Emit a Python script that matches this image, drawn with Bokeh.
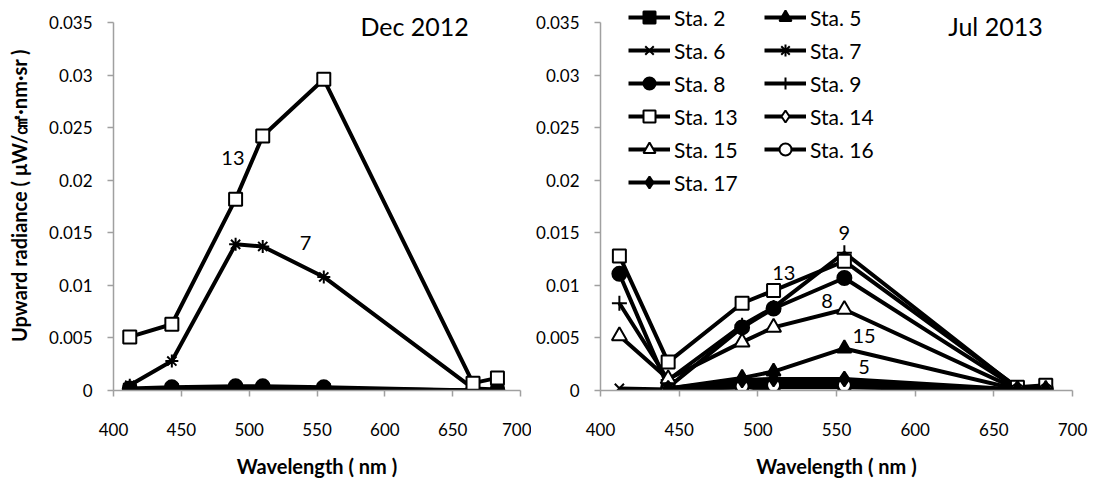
from bokeh.plotting import figure
from bokeh.models import Range1d, FixedTicker, Legend, LegendItem, ColumnDataSource, Label
from bokeh.layouts import row
from bokeh.core.properties import value
from bokeh.embed import file_html
from bokeh.resources import INLINE

NA = float("nan")

# ---------------- data ----------------
wavelengths = [412, 443, 490, 510, 555, 665, 683]

# Dec 2012
dec_sta2 = [0.0001, 0.0001, 0.0001, 0.0001, 0.0001, 0.0000, 0.0000]
dec_sta7 = [0.0005, 0.0028, 0.0139, 0.0137, 0.0108, 0.0002, 0.0001]
dec_sta8 = [0.0002, 0.0003, 0.0004, 0.0004, 0.0003, 0.0000, 0.0000]
dec_sta9 = [0.0000, 0.0002, 0.0002, 0.0002, 0.0002, 0.0000, 0.0000]
dec_sta13 = [0.0051, 0.0063, 0.0182, 0.0242, 0.0296, 0.0007, 0.0012]

# Jul 2013
jul_sta2 = [NA, 0.0001, 0.0003, 0.0003, 0.0003, 0.0000, 0.0001]
jul_sta5 = [NA, 0.0002, 0.0012, 0.0018, 0.0040, 0.0001, 0.0000]
jul_sta6 = [0.0002, 0.0001, -0.0003, 0.0004, 0.0005, 0.0000, 0.0000]
jul_sta7 = [NA, 0.0001, 0.0003, 0.0004, 0.0004, 0.0000, 0.0000]
jul_sta8 = [0.0111, 0.0003, 0.0060, 0.0078, 0.0107, 0.0002, 0.0002]
jul_sta9 = [0.0083, 0.0010, 0.0062, 0.0079, 0.0131, 0.0002, 0.0001]
jul_sta13 = [0.0128, 0.0027, 0.0083, 0.0095, 0.0123, 0.0003, 0.0005]
jul_sta14 = [NA, 0.0002, 0.0007, 0.0008, 0.0008, 0.0001, 0.0000]
jul_sta15 = [0.0052, 0.0011, 0.0046, 0.0060, 0.0077, 0.0001, 0.0001]
jul_sta16 = [NA, 0.0001, 0.0004, 0.0005, 0.0005, 0.0000, 0.0000]
jul_sta17 = [NA, 0.0002, 0.0010, 0.0011, 0.0011, 0.0001, 0.0001]

dec_names = ["Sta. 2", "Sta. 7", "Sta. 8", "Sta. 9", "Sta. 13"]
dec_values = [dec_sta2, dec_sta7, dec_sta8, dec_sta9, dec_sta13]
jul_names = ["Sta. 2", "Sta. 5", "Sta. 6", "Sta. 7", "Sta. 8", "Sta. 9",
             "Sta. 13", "Sta. 14", "Sta. 15", "Sta. 16", "Sta. 17"]
jul_values = [jul_sta2, jul_sta5, jul_sta6, jul_sta7, jul_sta8, jul_sta9,
              jul_sta13, jul_sta14, jul_sta15, jul_sta16, jul_sta17]

x_ticks = [400, 450, 500, 550, 600, 650, 700]
y_ticks = [0, 0.005, 0.01, 0.015, 0.02, 0.025, 0.03, 0.035]
y_tick_labels = ["0", "0.005", "0.01", "0.015", "0.02", "0.025", "0.03", "0.035"]

dec_title = "Dec 2012"
jul_title = "Jul 2013"
x_title = "Wavelength ( nm )"
y_title = "Upward radiance ( \u03bcW/\u33a0\u00b7nm\u00b7sr )"

dec_note_text = ["13", "7"]
dec_note_x = [488, 541.5]
dec_note_y = [0.0221, 0.0140]
jul_note_text = ["9", "13", "8", "15", "5"]
jul_note_x = [555, 516.5, 544, 567.5, 567.5]
jul_note_y = [0.0150, 0.0112, 0.0085, 0.0052, 0.0022]

# ---------------- styles / layout ----------------
FONT = "Lato"
AXIS_GREY = "#A0A0A0"
Y_MAX = 0.035
PX_PER_UNIT = 368 / Y_MAX          # 0..0.035 spans 368 px
Y_TOP = 390 / PX_PER_UNIT          # frame extends to the top edge (room for titles/legend)
marker_style = {
    "Sta. 2": ("square", "black", 12),
    "Sta. 5": ("triangle", "black", 14),
    "Sta. 6": ("x", "black", 13),
    "Sta. 7": ("asterisk", "black", 13),
    "Sta. 8": ("circle", "black", 14),
    "Sta. 9": ("cross", "black", 15),
    "Sta. 13": ("square", "white", 13),
    "Sta. 14": ("diamond", "white", 15),
    "Sta. 15": ("triangle", "white", 15),
    "Sta. 16": ("circle", "white", 13),
    "Sta. 17": ("diamond", "black", 15),
}


def make_fig(width, bl, br, with_ylabel):
    p = figure(width=width, height=480,
               x_range=Range1d(400, 700), y_range=Range1d(0, Y_TOP),
               output_backend="svg", toolbar_location=None,
               min_border_left=bl, min_border_right=br,
               min_border_top=0, min_border_bottom=90)
    p.grid.visible = False
    p.outline_line_color = None
    p.background_fill_color = "white"
    p.border_fill_color = "white"
    for ax in (p.xaxis, p.yaxis):
        ax.axis_line_color = AXIS_GREY
        ax.axis_line_width = 1.5
        ax.major_tick_line_color = AXIS_GREY
        ax.major_tick_line_width = 1.5
        ax.major_tick_out = 6
        ax.major_tick_in = 0
        ax.minor_tick_line_color = None
        ax.major_label_text_font = FONT
        ax.major_label_text_font_size = "17px"
        ax.major_label_text_color = "black"
        ax.axis_label_text_font = FONT
        ax.axis_label_text_font_size = "20px"
        ax.axis_label_text_font_style = "bold"
        ax.axis_label_text_color = "black"
    p.xaxis.ticker = FixedTicker(ticks=x_ticks)
    p.yaxis.ticker = FixedTicker(ticks=y_ticks)
    p.yaxis.bounds = (0, Y_MAX)
    p.yaxis.major_label_overrides = dict(zip(y_ticks, y_tick_labels))
    p.xaxis.major_label_standoff = 26
    p.yaxis.major_label_standoff = 15
    p.xaxis.axis_label = x_title
    p.xaxis.axis_label_standoff = 15
    if with_ylabel:
        p.yaxis.axis_label = y_title
        p.yaxis.axis_label_standoff = 15
    return p


def draw_series(p, names, values):
    rends = {}
    for name, vals in zip(names, values):
        mk, fill, size = marker_style[name]
        src = ColumnDataSource(dict(x=wavelengths, y=vals))
        lr = p.line("x", "y", source=src, line_color="black", line_width=4)
        sr = p.scatter("x", "y", source=src, marker=mk, size=size,
                       fill_color=fill, line_color="black", line_width=2)
        rends[name] = (lr, sr)
    return rends


def draw_notes(p, xs, ys, texts, size):
    src = ColumnDataSource(dict(x=xs, y=ys, t=texts))
    p.text("x", "y", text="t", source=src, text_font=value(FONT),
           text_font_size=size, text_align="center", text_baseline="middle",
           text_color="black")


def add_title(p, x, text):
    p.add_layout(Label(x=x, y=(390 - 25) / PX_PER_UNIT, text=text,
                       text_align="center", text_baseline="middle",
                       text_font=FONT, text_font_size="25px", text_color="black"))


# Left panel
p1 = make_fig(531, 113, 11, True)
draw_series(p1, dec_names, dec_values)
draw_notes(p1, dec_note_x, dec_note_y, dec_note_text, "20px")
add_title(p1, 622, dec_title)

# Right panel
p2 = make_fig(559, 69, 18, False)
rends = draw_series(p2, jul_names, jul_values)
draw_notes(p2, jul_note_x, jul_note_y, jul_note_text, "20px")
add_title(p2, 651, jul_title)

items = [LegendItem(label=n, renderers=list(rends[n])) for n in jul_names]
legend = Legend(items=items, location=(28, 193), orientation="horizontal", ncols=2,
                glyph_width=42, glyph_height=30, label_standoff=4,
                label_width=87, label_height=30, spacing=3, padding=0, margin=0,
                border_line_color=None, background_fill_alpha=0,
                label_text_font=FONT, label_text_font_size="21px",
                label_text_color="black", label_text_baseline="middle")
p2.add_layout(legend, "center")

layout = row(p1, p2)
open("out.html", "w").write(file_html(layout, INLINE))
